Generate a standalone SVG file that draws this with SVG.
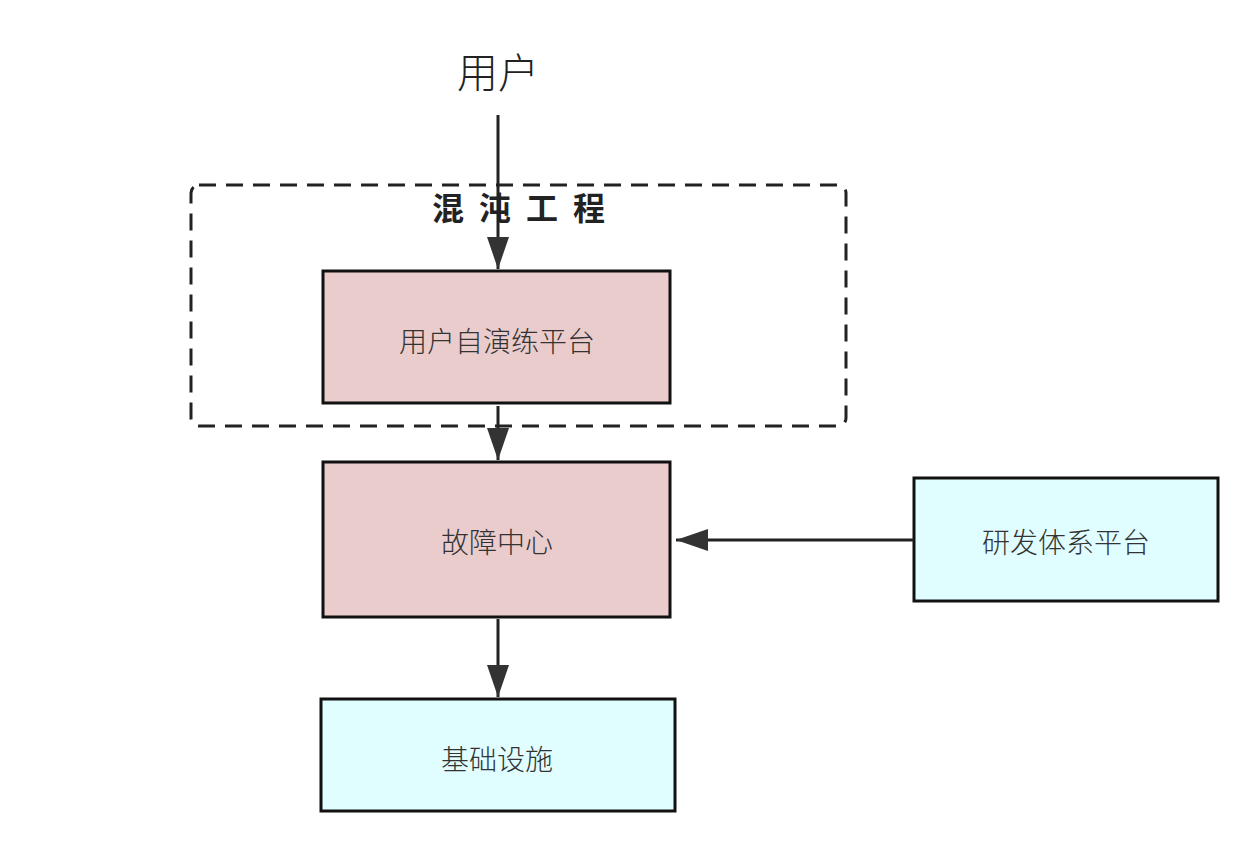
<svg xmlns="http://www.w3.org/2000/svg" width="1250" height="848" viewBox="0 0 1250 848">
<style>
text{font-family:"Noto Sans CJK SC","Liberation Sans",sans-serif;fill:#222;text-anchor:middle;dominant-baseline:central}
.box{stroke:#111;stroke-width:3}
.pink{fill:#eacccc}
.cyan{fill:#e0fdff}
.lbl{font-size:28px;font-weight:300;fill:#333}
.edge{stroke:#222;stroke-width:3;fill:none}
</style>
<defs>
<marker id="ah2" viewBox="0 0 32 22" refX="32" refY="11" markerWidth="32" markerHeight="22" markerUnits="userSpaceOnUse" orient="auto">
<path d="M0,0 L32,11 L0,22 z" fill="#333"/>
</marker>
</defs>
<rect width="1250" height="848" fill="#fff"/>
<g id="user"><text x="498" y="70" style="font-size:41px;font-weight:300">用户</text></g>
<g id="chaos">
<rect x="191" y="185" width="655" height="241" rx="8" fill="none" stroke="#222" stroke-width="3" stroke-dasharray="17,10"/>
<text x="526" y="206" style="font-size:32px;font-weight:bold;letter-spacing:15px">混沌工程</text>
</g>
<g id="n1"><rect class="box pink" x="323" y="271" width="347" height="132"/><text class="lbl" x="497" y="340">用户自演练平台</text></g>
<g id="n2"><rect class="box pink" x="323" y="462" width="347" height="155"/><text class="lbl" x="497" y="541">故障中心</text></g>
<g id="n3"><rect class="box cyan" x="914" y="478" width="304" height="123"/><text class="lbl" x="1066" y="541">研发体系平台</text></g>
<g id="n4"><rect class="box cyan" x="321" y="699" width="354" height="112"/><text class="lbl" x="497" y="758">基础设施</text></g>
<g id="edges">
<line class="edge" x1="498" y1="115" x2="498" y2="269" marker-end="url(#ah2)"/>
<line class="edge" x1="498" y1="406" x2="498" y2="460" marker-end="url(#ah2)"/>
<line class="edge" x1="914" y1="540" x2="676" y2="540" marker-end="url(#ah2)"/>
<line class="edge" x1="498" y1="619" x2="498" y2="697" marker-end="url(#ah2)"/>
</g>
</svg>
